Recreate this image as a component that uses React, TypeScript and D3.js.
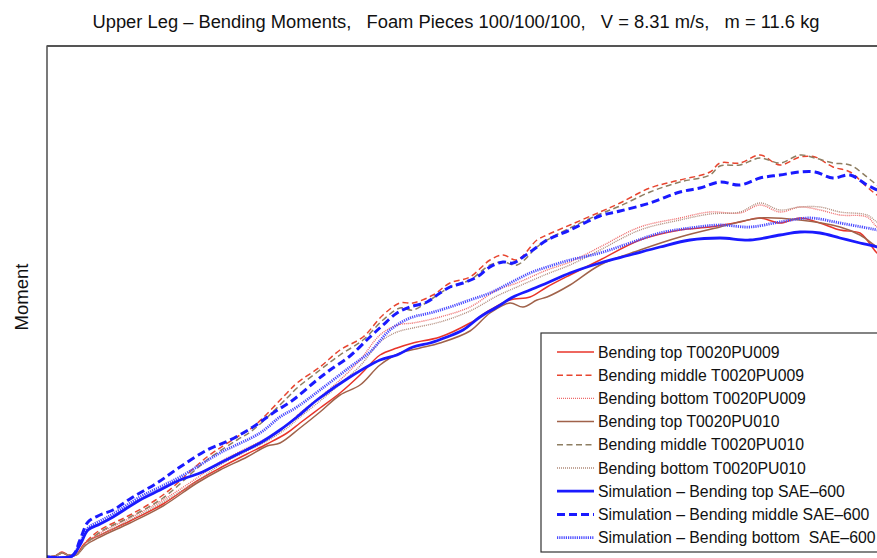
import React from "react";
import * as d3 from "d3";

type P = [number, number];

const titleText = "Upper Leg \u2013 Bending Moments,   Foam Pieces 100/100/100,   V = 8.31 m/s,   m = 11.6 kg";
const yLabel = "Moment";

// time (ms), moment (N·m)
const simTop: P[] = [[0,0],[1.25,0.5],[1.65,6],[2.05,13.5],[2.65,16.5],[3.3,20],[4.65,28.5],[5.65,33.5],[6.65,38.5],[7.65,42],[8.65,47],[9.65,52],[10.65,57],[11.65,63.5],[12.5,70],[13.5,78.5],[15.15,90],[16.65,98.5],[17.5,101],[18.3,105],[19.15,107],[20,110],[20.8,113.5],[21.65,120],[22.5,125],[23.3,130],[24.15,133.5],[25,137],[26.15,142],[27.65,147],[29.15,151],[30.65,155],[32.15,158.5],[33.65,159.5],[35.15,158.5],[36.65,161],[37.65,162.5],[38.65,162],[39.65,159.5],[40.65,157],[41.5,155],[42.15,152.5]];
const simMiddle: P[] = [[0,0],[1.25,0.5],[1.65,8.5],[2.05,17.5],[2.65,21],[3.3,23.5],[4.3,30],[5.5,37],[6.65,45],[8,53.5],[9.15,58.5],[10.3,65],[11.3,72],[12.3,78.5],[13.5,88.5],[14.15,93.5],[15.15,100.5],[16.15,110],[16.8,116],[17.5,122],[18.15,125],[19,127.5],[19.65,132],[20.15,135],[20.8,137],[21.5,140],[22.15,145],[22.8,147.5],[23.3,147],[23.8,150],[24.5,155],[25,158.5],[26.15,163.5],[27.65,170.5],[28.65,173],[30.15,177],[31.65,182.5],[32.65,184.5],[33.65,187.5],[34.65,186],[35.65,189.5],[36.65,191],[37.65,192.5],[38.4,192.5],[39.3,189.5],[40.15,191],[41,186],[41.5,183.5],[42.15,180]];
const simBottom: P[] = [[0,0],[1.25,0.5],[1.65,7],[2.05,14.5],[2.65,18],[3.3,21.5],[4.65,30],[5.65,35],[6.65,40],[8.65,52],[10.65,62],[11.65,70],[12.5,75],[13.65,83.5],[15.15,95],[16.15,102.5],[17.15,113.5],[18.15,119.5],[19.15,122],[20.15,125],[21.15,128.5],[22.15,132],[23.15,137],[24.15,142],[25,145],[26.15,148.5],[27.65,152],[29.15,157],[30.65,162],[32.15,164.5],[33.65,166],[35.15,165],[36.65,167.5],[38.15,169.5],[39.65,167],[41,164.5],[41.5,163.5],[42.15,162]];
const topPU009: P[] = [[0,0],[0.4,0.5],[0.75,2.5],[1.05,1],[1.45,1],[1.9,7],[2.65,11],[4.15,18],[5.8,26.5],[7.5,38],[8.65,44.5],[10,51.5],[11,56.5],[12,62],[12.65,67],[13.65,74.5],[14.65,82],[15.65,91],[16.65,101],[17.5,104.5],[18.3,107],[19.65,110],[21.15,117],[22.15,123.5],[23.15,128.5],[24.15,130],[25,135],[26.15,141],[27.65,148.5],[29.65,158.5],[31.65,163.5],[33.15,165],[34.65,167.5],[35.65,169.5],[36.65,167],[37.65,169.5],[38.65,167],[39.65,163.5],[40.65,162],[41,158.5],[41.5,152],[42.15,147.5]];
const middlePU009: P[] = [[0,0],[0.4,0.5],[0.75,2],[1.05,1],[1.45,1],[1.95,7.5],[2.65,13.5],[4.15,21],[5.8,31],[8,50],[9.5,60],[10.3,65],[12,82],[12.5,87],[13.65,95],[14.65,103.5],[15.8,110],[16.8,121],[17.65,127],[18.3,127],[19.3,131],[20.15,137],[21.15,140],[22.15,148.5],[22.8,151],[23.5,148.5],[24.5,158.5],[25,161],[26.15,166],[27.65,172.5],[28.65,177],[30.15,184.5],[31.65,188.5],[33.15,192.5],[33.65,197],[34.65,197],[35.65,201],[36.65,196],[37.65,200],[38.4,200],[39.3,195],[40.15,192.5],[41,185],[41.5,181],[42.15,177]];
const bottomPU009: P[] = [[0,0],[0.4,0.5],[0.75,2],[1.05,1],[1.45,1],[1.95,7],[2.65,12],[4.15,19.5],[5.8,28.5],[7.5,39.5],[8.65,47.5],[10,54.5],[11,59.5],[12,66],[12.65,72],[13.65,80],[14.65,88.5],[15.65,98.5],[16.65,111],[17.5,116],[18.3,117],[19.65,120],[21.15,125],[22.5,133.5],[23.5,137],[25,143.5],[26.15,147.5],[27.65,155],[29.65,165],[31.65,169.5],[33.15,172.5],[34.65,172],[35.65,176],[36.65,172.5],[37.65,175],[38.65,173.5],[39.65,171],[41,170],[41.5,165],[42.15,161]];
const topPU010: P[] = [[0,0],[0.4,0.5],[0.75,2],[1.05,1],[1.45,1],[1.95,6],[2.65,10],[4.15,17],[5.8,25.5],[7.5,37],[8.65,43.5],[10,50],[11,55.5],[11.65,57],[12.65,64.5],[13.65,72.5],[14.65,81],[15.65,86],[16.65,96],[17.65,102],[18.65,104.5],[19.65,107],[21.15,113],[22.15,122],[23.15,127],[23.8,125],[24.5,128.5],[25,130],[26.15,136],[27.65,146],[29.65,153.5],[31.65,160],[33.65,165],[35.65,169.5],[37.65,168.5],[39.65,165],[40.65,161],[41.5,155],[42.15,151]];
const middlePU010: P[] = [[0,0],[0.4,0.5],[0.75,2],[1.05,1],[1.45,1],[1.95,6.5],[2.65,12.5],[4.15,20],[5.8,29.5],[8,48.5],[9.5,58.5],[10.3,63.5],[12,79.5],[12.5,84.5],[13.65,93.5],[14.65,101],[15.8,108.5],[16.8,118.5],[17.65,124.5],[18.3,123.5],[19.3,129.5],[20.15,135],[21.15,138.5],[22.15,146],[22.8,147.5],[23.5,146],[24.5,155],[25,158.5],[26.15,164.5],[27.65,171.5],[28.65,175.5],[30.15,182.5],[31.65,187.5],[33.15,191],[33.65,195.5],[34.65,196],[35.65,199.5],[36.65,197],[37.65,201],[38.4,199.5],[39.3,197],[40.15,196],[41,190],[41.5,186],[42.15,182]];
const bottomPU010: P[] = [[0,0],[0.4,0.5],[0.75,2],[1.05,1],[1.45,1],[1.95,6.5],[2.65,11],[4.15,18.5],[5.8,27.5],[7.5,38],[8.65,46],[10,53],[11,58],[12,64.5],[12.65,70],[13.65,78],[14.65,86.5],[15.65,95.5],[16.65,107.5],[17.5,112.5],[18.3,114.5],[19.65,117.5],[21.15,123],[22.5,130.5],[23.5,135],[25,141.5],[26.15,146],[27.65,153.5],[29.65,163.5],[31.65,168.5],[33.15,171.5],[34.65,172.5],[35.65,177],[36.65,173.5],[37.65,175],[38.65,175],[39.65,172.5],[41,171],[41.5,167.5],[42.15,164.5]];

const seriesNames = [
  "Bending top T0020PU009",
  "Bending middle T0020PU009",
  "Bending bottom T0020PU009",
  "Bending top T0020PU010",
  "Bending middle T0020PU010",
  "Bending bottom T0020PU010",
  "Simulation \u2013 Bending top SAE\u2013600",
  "Simulation \u2013 Bending middle SAE\u2013600",
  "Simulation \u2013 Bending bottom  SAE\u2013600",
];
const seriesData = [topPU009, middlePU009, bottomPU009, topPU010, middlePU010, bottomPU010, simTop, simMiddle, simBottom];

const styles = [
  { color: "#e8352a", width: 1.5, dash: "" },
  { color: "#e8452f", width: 1.5, dash: "6,3.5" },
  { color: "#ee6a6a", width: 1.4, dash: "1,1" },
  { color: "#a0624a", width: 1.5, dash: "" },
  { color: "#8e7e62", width: 1.5, dash: "6,3.5" },
  { color: "#b08a7a", width: 1.4, dash: "1,1" },
  { color: "#1a1aff", width: 2.8, dash: "" },
  { color: "#1a1aff", width: 3, dash: "8,4" },
  { color: "#4a4aff", width: 2.8, dash: "1.2,1" },
];

const drawOrder = [0, 1, 2, 3, 4, 5, 8, 6, 7];

export default function App() {
  const W = 877, H = 558;
  const left = 47, top = 46, right = 887, bottom = 558;
  const x = d3.scaleLinear().domain([0, 42]).range([left, right]);
  const y = d3.scaleLinear().domain([0, 255.5]).range([557, top]);
  const line = d3.line<P>().x(d => x(d[0])).y(d => y(d[1])).curve(d3.curveCatmullRom.alpha(0.5));

  const legX = 541, legY = 333, rowH = 23.2;
  return (
    <svg width={W} height={H} style={{ position: "absolute", left: 0, top: 0, background: "#fff" }}
      fontFamily="'Liberation Sans', Arial, sans-serif">
      <defs>
        <clipPath id="plotclip"><rect x={left} y={top} width={right - left} height={bottom - top} /></clipPath>
      </defs>
      <rect x={0} y={0} width={W} height={H} fill="#fff" />
      <text x={456} y={28} textAnchor="middle" fontSize={17.5} fill="#111" xmlSpace="preserve"
        style={{ whiteSpace: "pre" }} textLength={727} lengthAdjust="spacingAndGlyphs">{titleText}</text>
      <text transform={`translate(28,${297}) rotate(-90)`} textAnchor="middle" fontSize={17.5} fill="#111"
        textLength={67} lengthAdjust="spacingAndGlyphs">{yLabel}</text>
      <g clipPath="url(#plotclip)">
        {drawOrder.map(i => (
          <path key={i} d={line(seriesData[i]) || ""} fill="none" stroke={styles[i].color}
            strokeWidth={styles[i].width} strokeDasharray={styles[i].dash || undefined} strokeLinejoin="round" />
        ))}
      </g>
      <rect x={left} y={top} width={right - left} height={bottom - top + 2} fill="none" stroke="#222" strokeWidth={1.2} />
      <line x1={left} x2={right} y1={top} y2={top} stroke="#555" strokeWidth={2} />
      <g>
        <rect x={legX} y={legY} width={400} height={219} fill="#fff" stroke="#333" strokeWidth={1.2} />
        {seriesNames.map((name, i) => {
          const cy = legY + 19 + i * rowH;
          return (
            <g key={i}>
              <line x1={557} x2={594} y1={cy} y2={cy} stroke={styles[i].color} strokeWidth={styles[i].width}
                strokeDasharray={styles[i].dash || undefined} />
              <text x={598} y={cy + 5.5} fontSize={15.8} fill="#111" xmlSpace="preserve" style={{ whiteSpace: "pre" }}>{name}</text>
            </g>
          );
        })}
      </g>
    </svg>
  );
}
